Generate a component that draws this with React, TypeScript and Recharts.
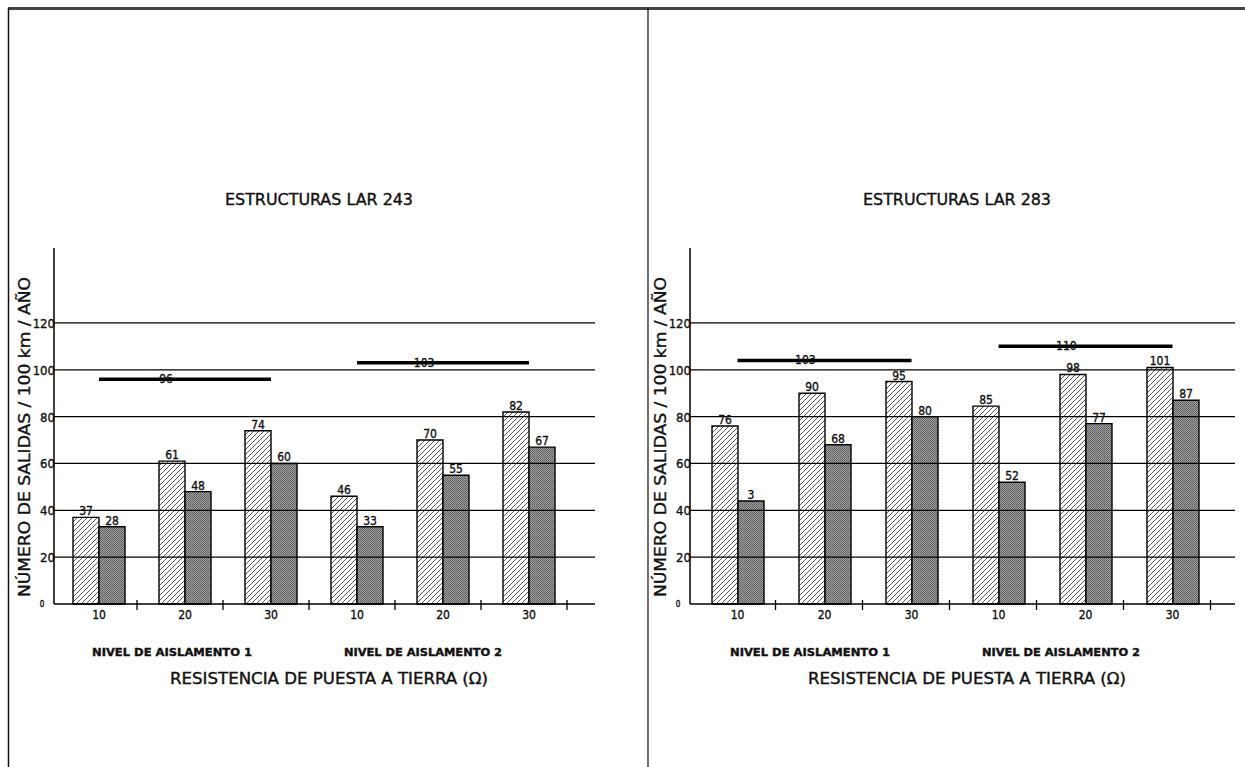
import React from 'react';
import { BarChart, Bar, XAxis, YAxis, ReferenceLine, LabelList } from 'recharts';

// categorias: nivel de aislamiento 1 y 2, resistencia 10/20/30 ohm
const categoryKeys = ['N1-10', 'N1-20', 'N1-30', 'N2-10', 'N2-20', 'N2-30'];
const tickLabels = ['10', '20', '30', '10', '20', '30'];
const yTicks = [0, 20, 40, 60, 80, 100, 120];
const gridValues = [20, 40, 60, 80, 100, 120];

// LAR 243
const lar243Hatched = [37, 61, 74, 46, 70, 82];
const lar243Dark = [33, 48, 60, 33, 55, 67];
const lar243HatchedLabels = ['37', '61', '74', '46', '70', '82'];
const lar243DarkLabels = ['28', '48', '60', '33', '55', '67'];
const lar243AvgValues = [96, 103];
const lar243AvgLabels = ['96', '103'];

// LAR 283
const lar283Hatched = [76, 90, 95, 84.5, 98, 101];
const lar283Dark = [44, 68, 80, 52, 77, 87];
const lar283HatchedLabels = ['76', '90', '95', '85', '98', '101'];
const lar283DarkLabels = ['3', '68', '80', '52', '77', '87'];
const lar283AvgValues = [104, 110];
const lar283AvgLabels = ['103', '110'];

// tramos de las lineas de promedio (desde/hasta categoria)
const avgSpans = [
  ['N1-10', 'N1-30'],
  ['N2-10', 'N2-30'],
];

const FONT = "'DejaVu Sans Condensed', 'DejaVu Sans', sans-serif";
// trazo fino sobre el texto para imitar la letra de CAD
const INK = { fill: '#111', stroke: '#111', strokeWidth: 0.35 };

const buildData = (hatched: number[], dark: number[], hl: string[], dl: string[]) =>
  categoryKeys.map((key, i) => ({ key, hatched: hatched[i], dark: dark[i], hl: hl[i], dl: dl[i] }));

const XTick = (props: any) => {
  const { x, y, index } = props;
  return (
    <g>
      <text x={x} y={y + 15} textAnchor="middle" fontSize={12} fontFamily={FONT} {...INK}>
        {tickLabels[index]}
      </text>
      <line x1={x + 38} x2={x + 38} y1={y - 4} y2={y + 6} stroke="#000" strokeWidth={1.3} />
    </g>
  );
};

const YTick = (props: any) => {
  const { x, y, payload } = props;
  if (payload.value === 0) {
    return (
      <text x={x - 12} y={y + 3} textAnchor="middle" fontSize={8} fontFamily={FONT} {...INK}>
        0
      </text>
    );
  }
  return (
    <text x={x + 1} y={y + 5} textAnchor="end" fontSize={13} fontFamily={FONT} {...INK}>
      {payload.value}
    </text>
  );
};

const AvgLabel = (props: any) => {
  const { viewBox, text } = props;
  if (!viewBox) return null;
  const x = viewBox.x + viewBox.width * 0.39;
  return (
    <text x={x} y={viewBox.y + 4} textAnchor="middle" fontSize={12} fontFamily={FONT} {...INK}>
      {text}
    </text>
  );
};

interface PanelProps {
  hatched: number[];
  dark: number[];
  hatchedLabels: string[];
  darkLabels: string[];
  avgValues: number[];
  avgLabels: string[];
  margin: { top: number; right: number; bottom: number; left: number };
  padding: { left: number; right: number };
}

const Panel: React.FC<PanelProps> = ({
  hatched, dark, hatchedLabels, darkLabels, avgValues, avgLabels, margin, padding,
}) => {
  const data = buildData(hatched, dark, hatchedLabels, darkLabels);
  return (
    <BarChart width={640} height={767} data={data} margin={margin} barSize={26} barGap={0}>
      <XAxis
        dataKey="key"
        height={1}
        interval={0}
        padding={padding}
        tickLine={false}
        tickSize={0}
        tickMargin={0}
        axisLine={{ stroke: '#000', strokeWidth: 1.5 }}
        tick={<XTick />}
      />
      <YAxis
        width={1}
        domain={[0, 152]}
        ticks={yTicks}
        interval={0}
        tickLine={false}
        tickSize={0}
        tickMargin={0}
        axisLine={{ stroke: '#000', strokeWidth: 1.5 }}
        tick={<YTick />}
      />
      <Bar dataKey="hatched" fill="url(#hatchPattern)" stroke="#000" strokeWidth={1.4} isAnimationActive={false}>
        <LabelList dataKey="hl" position="top" offset={2} fontSize={12} fontFamily={FONT} fill="#111" stroke="#111" strokeWidth={0.35} />
      </Bar>
      <Bar dataKey="dark" fill="url(#darkPattern)" stroke="#000" strokeWidth={1.4} isAnimationActive={false}>
        <LabelList dataKey="dl" position="top" offset={2} fontSize={12} fontFamily={FONT} fill="#111" stroke="#111" strokeWidth={0.35} />
      </Bar>
      {gridValues.map((v) => (
        <ReferenceLine key={v} y={v} stroke="#000" strokeWidth={1.2} ifOverflow="visible" />
      ))}
      {avgValues.map((v, i) => (
        <ReferenceLine
          key={'avg' + i}
          segment={[{ x: avgSpans[i][0], y: v }, { x: avgSpans[i][1], y: v }]}
          stroke="#000"
          strokeWidth={3.5}
          ifOverflow="visible"
          label={<AvgLabel text={avgLabels[i]} />}
        />
      ))}
    </BarChart>
  );
};

const PanelTexts = ({ dx, title }: { dx: number; title: string }) => {
  const tx = dx + (dx === 0 ? 25 : 23);
  return (
    <g fontFamily={FONT} {...INK}>
      <text x={dx + 319} y={205} textAnchor="middle" fontSize={16} textLength={188} lengthAdjust="spacingAndGlyphs">
        {title}
      </text>
      <text
        x={tx}
        y={437}
        transform={`rotate(-90 ${tx} 437)`}
        textAnchor="middle"
        dominantBaseline="central"
        fontSize={15}
        textLength={320}
        lengthAdjust="spacingAndGlyphs"
      >
        NÚMERO DE SALIDAS / 100 km / AÑO
      </text>
      <text x={dx + 172} y={656} textAnchor="middle" fontSize={11} fontWeight="bold" textLength={160} lengthAdjust="spacingAndGlyphs">
        NIVEL DE AISLAMENTO 1
      </text>
      <text x={dx + 423} y={656} textAnchor="middle" fontSize={11} fontWeight="bold" textLength={158} lengthAdjust="spacingAndGlyphs">
        NIVEL DE AISLAMENTO 2
      </text>
      <text x={dx + 329} y={684} textAnchor="middle" fontSize={15} textLength={318} lengthAdjust="spacingAndGlyphs">
        RESISTENCIA DE PUESTA A TIERRA (Ω)
      </text>
    </g>
  );
};

export default function App() {
  return (
    <div style={{ position: 'absolute', left: 0, top: 0, width: 1245, height: 767, background: '#fff', overflow: 'hidden' }}>
      <svg width={0} height={0} style={{ position: 'absolute' }}>
        <defs>
          <pattern id="hatchPattern" width={5} height={5} patternUnits="userSpaceOnUse">
            <rect width={5} height={5} fill="#fff" />
            <path d="M0,5 L5,0 M-1,1 L1,-1 M4,6 L6,4" stroke="#444" strokeWidth={0.9} />
          </pattern>
          <pattern id="darkPattern" width={2} height={2} patternUnits="userSpaceOnUse">
            <rect width={2} height={2} fill="#a0a0a0" />
            <rect width={1} height={1} fill="#5a5a5a" />
            <rect x={1} y={1} width={1} height={1} fill="#6a6a6a" />
          </pattern>
        </defs>
      </svg>
      <div style={{ position: 'absolute', left: 0, top: 0 }}>
        <Panel
          hatched={lar243Hatched}
          dark={lar243Dark}
          hatchedLabels={lar243HatchedLabels}
          darkLabels={lar243DarkLabels}
          avgValues={lar243AvgValues}
          avgLabels={lar243AvgLabels}
          margin={{ top: 248, right: 45, bottom: 162, left: 53 }}
          padding={{ left: 2, right: 23 }}
        />
      </div>
      <div style={{ position: 'absolute', left: 640, top: 0 }}>
        <Panel
          hatched={lar283Hatched}
          dark={lar283Dark}
          hatchedLabels={lar283HatchedLabels}
          darkLabels={lar283DarkLabels}
          avgValues={lar283AvgValues}
          avgLabels={lar283AvgLabels}
          margin={{ top: 248, right: 45, bottom: 162, left: 49 }}
          padding={{ left: 4, right: 19 }}
        />
      </div>
      <svg width={1245} height={767} style={{ position: 'absolute', left: 0, top: 0, pointerEvents: 'none' }}>
        <line x1={8} x2={1245} y1={8.5} y2={8.5} stroke="#444" strokeWidth={3} />
        <line x1={8.5} x2={8.5} y1={8} y2={767} stroke="#111" strokeWidth={1.5} />
        <line x1={648} x2={648} y1={8} y2={767} stroke="#111" strokeWidth={1.2} />
        <PanelTexts dx={0} title="ESTRUCTURAS LAR 243" />
        <PanelTexts dx={638} title="ESTRUCTURAS LAR 283" />
      </svg>
    </div>
  );
}
